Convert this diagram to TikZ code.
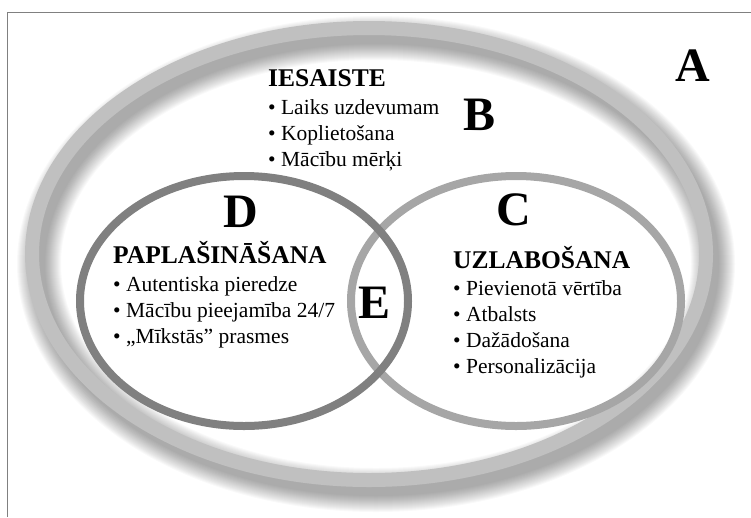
\documentclass[tikz,border=0pt]{standalone}
\usepackage{fontspec}
\setmainfont{Liberation Serif}
\usetikzlibrary{positioning}

\definecolor{outergray}{RGB}{192,192,192}
\definecolor{cgray}{RGB}{166,166,166}
\definecolor{dgray}{RGB}{128,128,128}

\begin{document}
\begin{tikzpicture}[
    x=1pt, y=-1pt,
    ringA/.style={draw=outergray, line width=14pt},
    ringC/.style={draw=cgray, line width=8pt},
    ringD/.style={draw=dgray, line width=8pt},
    letter/.style={inner sep=0pt, anchor=base, font=\fontsize{48}{48}\selectfont\bfseries},
    heading/.style={inner sep=0pt, anchor=base west, font=\fontsize{25.5}{28}\selectfont\bfseries},
    items/.style={inner sep=0pt, anchor=base west, align=left, font=\fontsize{21.5}{26}\selectfont}
]
\useasboundingbox (0,0) rectangle (751,517);
\draw[dgray, line width=1pt] (7,517) -- (7,12) -- (751,12);

% soft shadow under the outer ring
\foreach \w in {12,14,...,44}
  \draw[black, opacity=0.022, line width=\w pt] (376,264) ellipse [x radius=337, y radius=226];
\draw[ringA] (369,254) ellipse [x radius=337, y radius=226];
\draw[ringC] (516,301) ellipse [x radius=165, y radius=125];
\draw[ringD] (244,301) ellipse [x radius=164, y radius=125];

% letters
\node[letter] (A) at (693,81) {A};
\node[letter] (B) at (479,130) {B};
\node[letter] (C) at (514,225) {C};
\node[letter] (D) at (241,227) {D};
\node[letter] (E) at (375,318) {E};

% B: engagement (base of a list = its last line)
\node[heading] (engage) at (268,86) {IESAISTE};
\node[items] (engage_list) at ([yshift=-80pt]engage.base west)
  {• Laiks uzdevumam\\• Koplietošana\\• Mācību mērķi};

% D: extension
\node[heading] (extend) at (113,263) {PAPLAŠINĀŠANA};
\node[items] (extend_list) at ([yshift=-80pt]extend.base west)
  {• Autentiska pieredze\\• Mācību pieejamība 24/7\\• „Mīkstās” prasmes};

% C: improvement
\node[heading] (improve) at (453,268) {UZLABOŠANA};
\node[items] (improve_list) at ([yshift=-105pt]improve.base west)
  {• Pievienotā vērtība\\• Atbalsts\\• Dažādošana\\• Personalizācija};

\end{tikzpicture}
\end{document}
